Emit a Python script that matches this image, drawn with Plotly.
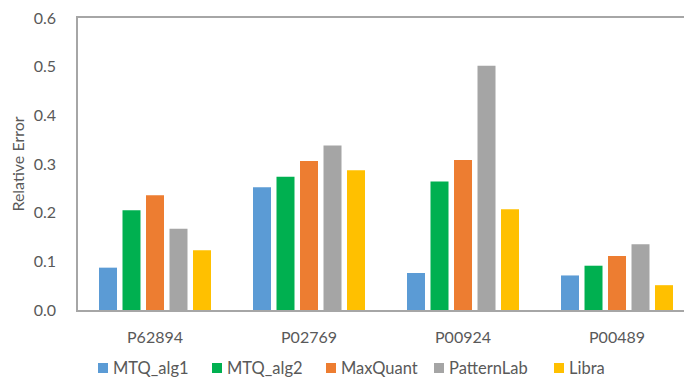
import plotly.graph_objects as go

categories = ["P62894", "P02769", "P00924", "P00489"]
series_names = ["MTQ_alg1", "MTQ_alg2", "MaxQuant", "PatternLab", "Libra"]
mtq_alg1 = [0.087, 0.252, 0.076, 0.071]
mtq_alg2 = [0.205, 0.274, 0.264, 0.091]
maxquant = [0.236, 0.306, 0.308, 0.111]
patternlab = [0.167, 0.338, 0.502, 0.135]
libra = [0.123, 0.287, 0.207, 0.051]
y_ticks = [0.0, 0.1, 0.2, 0.3, 0.4, 0.5, 0.6]
y_tick_labels = ["0.0", "0.1", "0.2", "0.3", "0.4", "0.5", "0.6"]

colors = ["#5B9BD5", "#00B050", "#ED7D31", "#A5A5A5", "#FFC000"]
values = [mtq_alg1, mtq_alg2, maxquant, patternlab, libra]

FONT = "Lato"
TXT = "#595959"
LINE = "#A6A6A6"

fig = go.Figure()
for name, vals, col in zip(series_names, values, colors):
    fig.add_trace(go.Bar(x=categories, y=vals, name=name,
                         marker=dict(color=col, line=dict(width=0)),
                         showlegend=False))

W, H = 684, 378
L, R, T, B = 78, 0, 18, 68
pw = W - L - R
ph = H - T - B
bottom_px = T + ph

# manual legend (squares + labels)
legend_sq_px = [98, 212, 326, 434, 554]
leg_y_px = 368
sq = 10
shapes = []
annotations = []
for name, col, px in zip(series_names, colors, legend_sq_px):
    shapes.append(dict(type="rect", xref="paper", yref="paper",
                       x0=(px - L) / pw, x1=(px + sq - L) / pw,
                       y0=(bottom_px - (leg_y_px + sq / 2)) / ph,
                       y1=(bottom_px - (leg_y_px - sq / 2)) / ph,
                       fillcolor=col, line=dict(width=0)))
    annotations.append(dict(xref="paper", yref="paper",
                            x=(px + sq + 3 - L) / pw,
                            y=(bottom_px - leg_y_px) / ph,
                            xanchor="left", yanchor="middle",
                            text=name, showarrow=False,
                            font=dict(family=FONT, size=16.5, color=TXT)))

fig.update_layout(
    width=W, height=H,
    margin=dict(l=L, r=R, t=T, b=B, pad=0),
    paper_bgcolor="white", plot_bgcolor="white",
    barmode="group", bargap=0.237, bargroupgap=0.234,
    font=dict(family=FONT, size=16, color=TXT),
    shapes=shapes, annotations=annotations,
    showlegend=False,
)
fig.update_xaxes(range=[-0.5, 3.435], showline=True, mirror=True,
                 linecolor=LINE, linewidth=1.5, showgrid=False,
                 ticks="", ticklabelstandoff=12,
                 tickfont=dict(family=FONT, size=16, color=TXT))
fig.update_yaxes(range=[0, 0.6], tickvals=y_ticks, ticktext=y_tick_labels,
                 showline=True, mirror=False, linecolor=LINE, linewidth=1.5,
                 showgrid=False, zeroline=False, ticks="",
                 ticklabelstandoff=17,
                 tickfont=dict(family=FONT, size=16, color=TXT),
                 title=dict(text="Relative Error", standoff=5,
                            font=dict(family=FONT, size=16, color=TXT)))

fig.write_html("out.html")
